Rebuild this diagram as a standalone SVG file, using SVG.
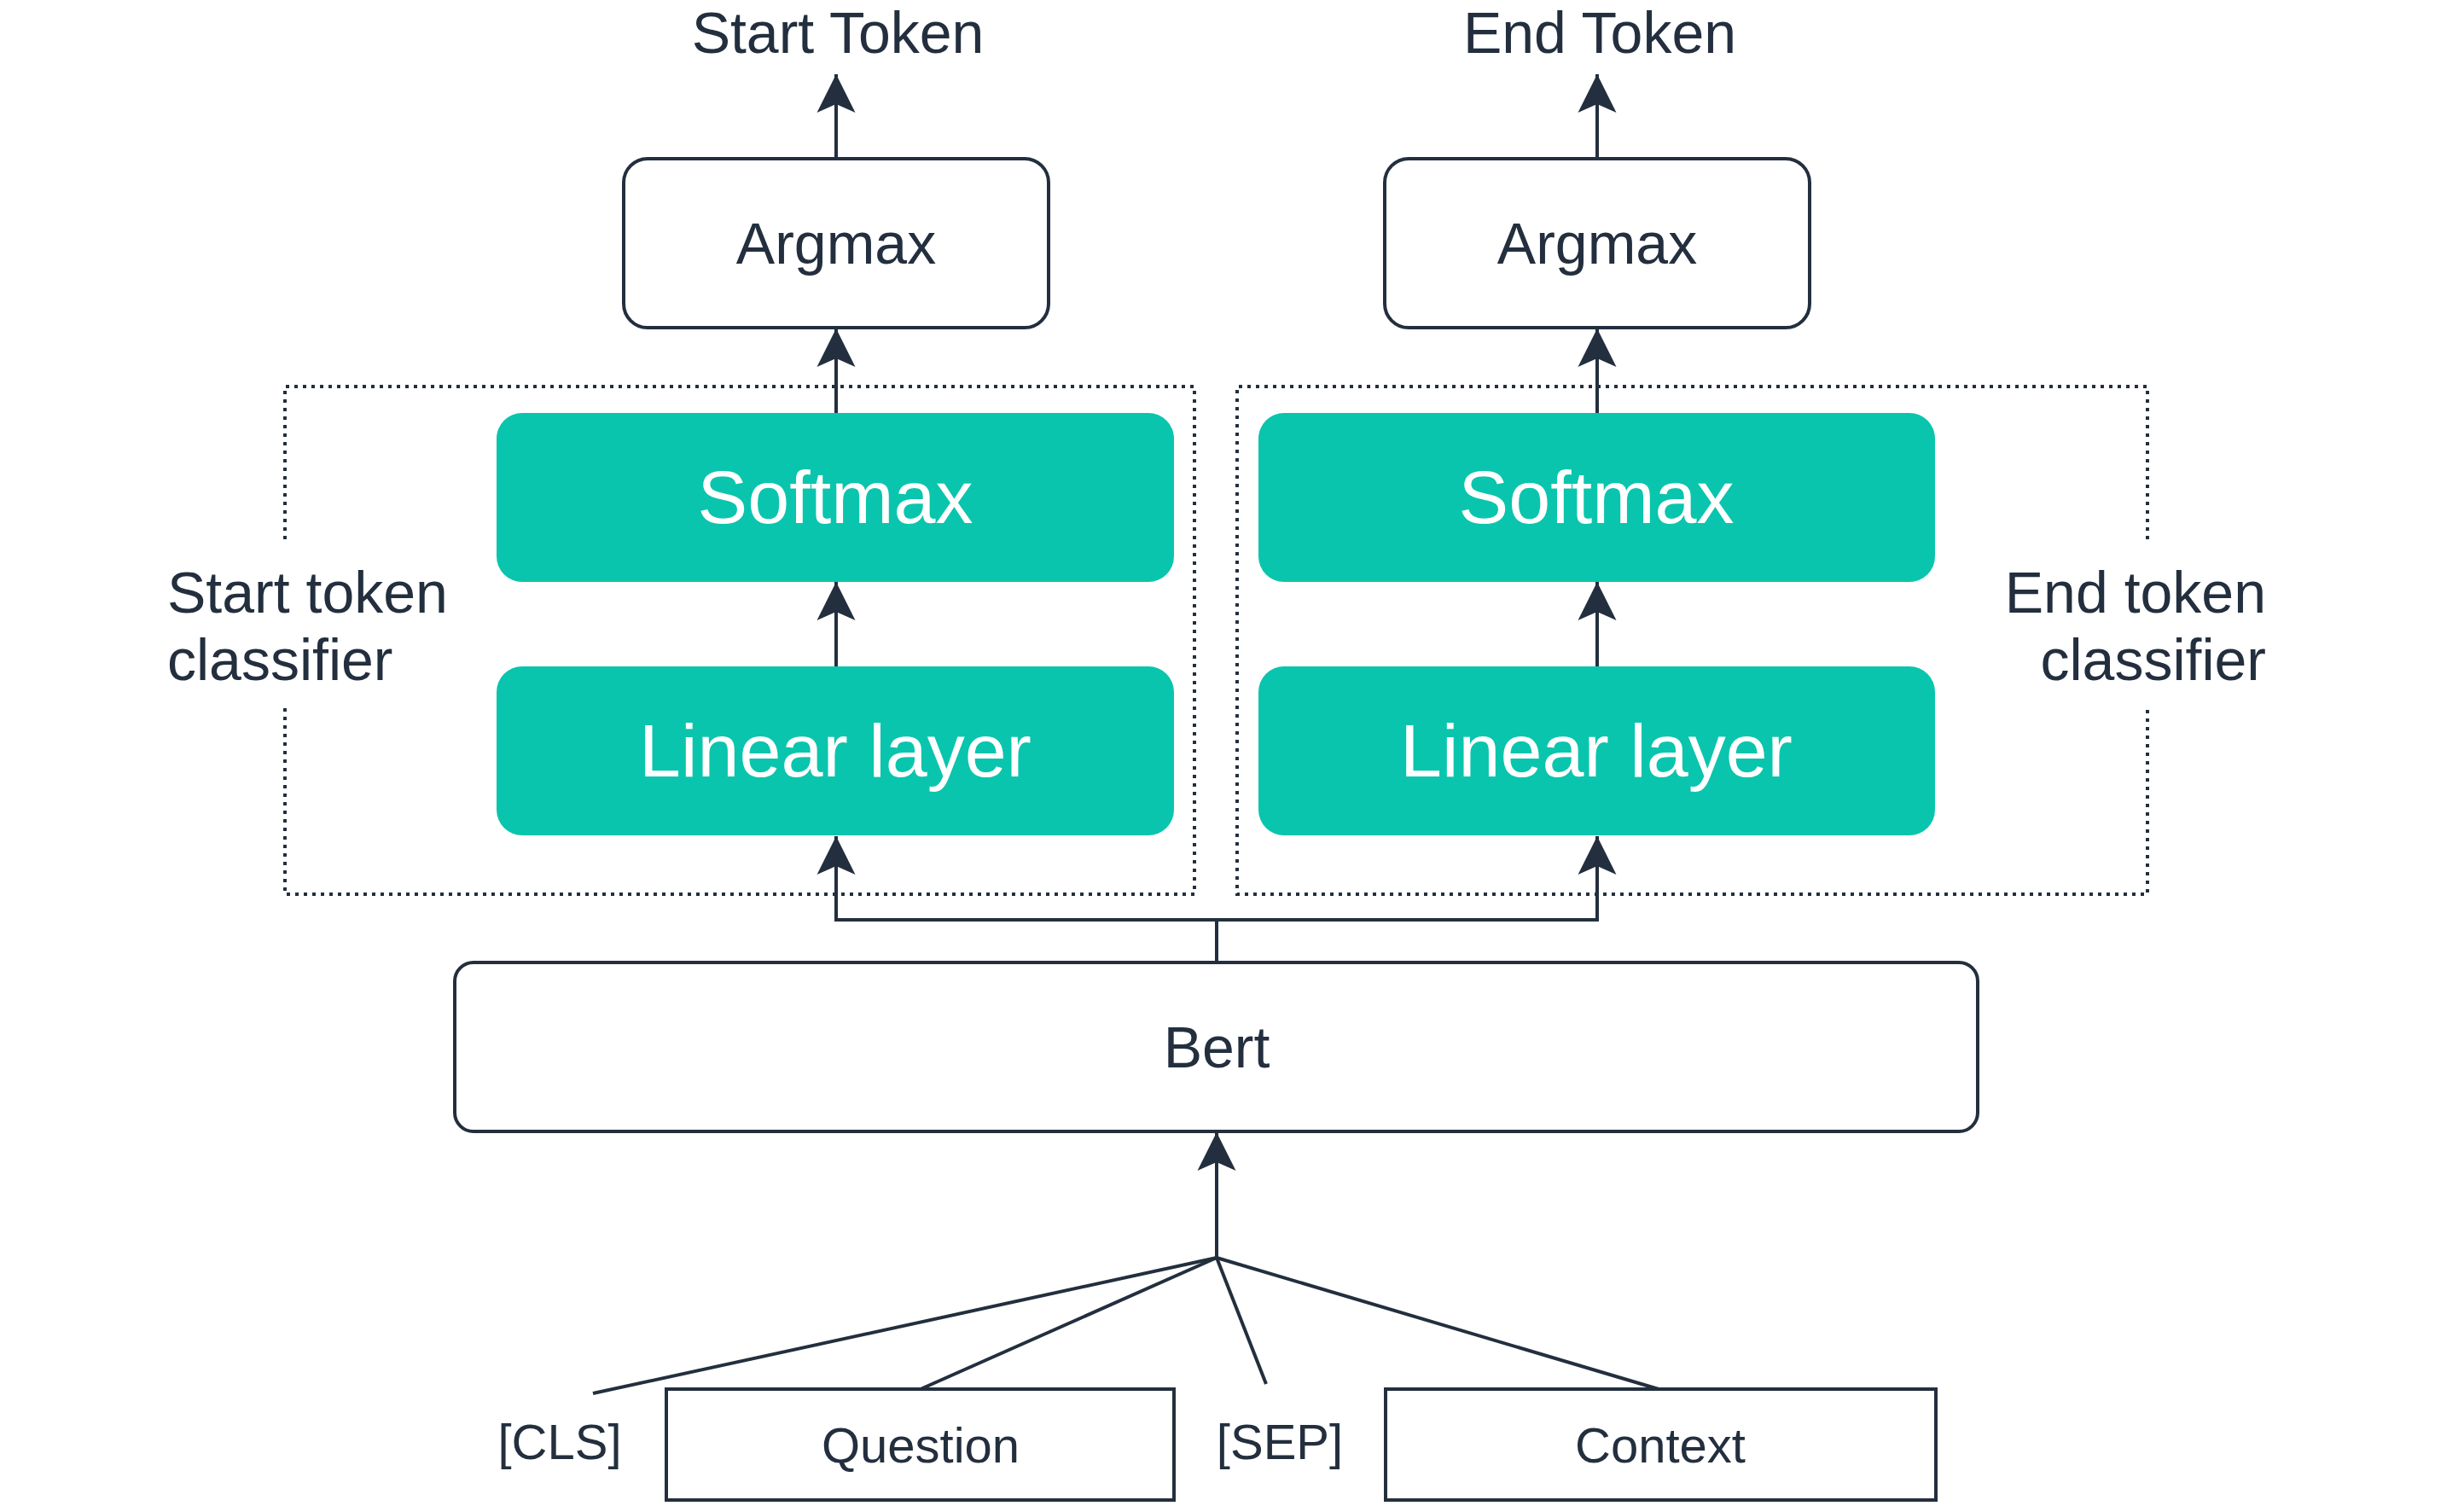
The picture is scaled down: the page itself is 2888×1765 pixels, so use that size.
<svg xmlns="http://www.w3.org/2000/svg" width="2888" height="1765" viewBox="0 0 2888 1765">
<style>
.t{font-family:"Liberation Sans",Arial,sans-serif;fill:#232F3E;font-size:68px;text-anchor:middle}
.w{font-family:"Liberation Sans",Arial,sans-serif;fill:#FFFFFF;font-size:88px;text-anchor:middle}
.s{font-family:"Liberation Sans",Arial,sans-serif;fill:#232F3E;font-size:58px;text-anchor:middle}
.box{fill:#FFFFFF;stroke:#232F3E;stroke-width:4}
.teal{fill:#0AC5AD}
.dot{fill:none;stroke:#232F3E;stroke-width:4;stroke-dasharray:4 6}
.ln{fill:none;stroke:#232F3E;stroke-width:4}
</style>
<defs>
<marker id="arr" markerUnits="userSpaceOnUse" markerWidth="46" markerHeight="46" viewBox="0 0 46 46" refX="45" refY="23" orient="auto">
<path d="M45,23 L0,0.5 L10,23 L0,45.5 Z" fill="#232F3E"/>
</marker>
</defs>
<rect width="2888" height="1765" fill="#FFFFFF"/>

<g id="start-classifier-group">
<path class="dot" d="M334,632 V453 H1400 V1048 H334 V830"/>
<text class="t" style="text-anchor:start" x="196" y="718">Start token</text>
<text class="t" style="text-anchor:start" x="196" y="797">classifier</text>
</g>
<g id="end-classifier-group">
<path class="dot" d="M2517,632 V453 H1450 V1048 H2517 V830"/>
<text class="t" style="text-anchor:end" x="2656" y="718">End token</text>
<text class="t" style="text-anchor:end" x="2656" y="797">classifier</text>
</g>

<g id="connectors">
<line class="ln" x1="980" y1="186" x2="980" y2="87" marker-end="url(#arr)"/>
<line class="ln" x1="1872" y1="186" x2="1872" y2="87" marker-end="url(#arr)"/>
<line class="ln" x1="980" y1="484" x2="980" y2="385" marker-end="url(#arr)"/>
<line class="ln" x1="1872" y1="484" x2="1872" y2="385" marker-end="url(#arr)"/>
<line class="ln" x1="980" y1="781" x2="980" y2="682" marker-end="url(#arr)"/>
<line class="ln" x1="1872" y1="781" x2="1872" y2="682" marker-end="url(#arr)"/>
<path class="ln" d="M1426,1128 V1078 H980 V980" marker-end="url(#arr)"/>
<path class="ln" d="M1426,1078 H1872 V980" marker-end="url(#arr)"/>
<line class="ln" x1="1426" y1="1474" x2="1426" y2="1327" marker-end="url(#arr)"/>
<line class="ln" x1="1426" y1="1474" x2="695" y2="1633"/>
<line class="ln" x1="1426" y1="1474" x2="1079" y2="1628"/>
<line class="ln" x1="1426" y1="1474" x2="1484" y2="1622"/>
<line class="ln" x1="1426" y1="1474" x2="1944" y2="1628"/>
</g>

<g id="start-token">
<text class="t" x="982" y="62">Start Token</text>
</g>
<g id="end-token">
<text class="t" x="1875" y="62">End Token</text>
</g>

<g id="argmax-start">
<rect class="box" x="731" y="186" width="498" height="198" rx="28"/>
<text class="t" x="980" y="309">Argmax</text>
</g>
<g id="argmax-end">
<rect class="box" x="1623" y="186" width="498" height="198" rx="28"/>
<text class="t" x="1872" y="309">Argmax</text>
</g>

<g id="softmax-start">
<rect class="teal" x="582" y="484" width="794" height="198" rx="30"/>
<text class="w" x="979" y="613">Softmax</text>
</g>
<g id="softmax-end">
<rect class="teal" x="1475" y="484" width="793" height="198" rx="30"/>
<text class="w" x="1871" y="613">Softmax</text>
</g>

<g id="linear-start">
<rect class="teal" x="582" y="781" width="794" height="198" rx="30"/>
<text class="w" x="979" y="910">Linear layer</text>
</g>
<g id="linear-end">
<rect class="teal" x="1475" y="781" width="793" height="198" rx="30"/>
<text class="w" x="1871" y="910">Linear layer</text>
</g>

<g id="bert">
<rect class="box" x="533" y="1128" width="1785" height="198" rx="22"/>
<text class="t" x="1426" y="1251">Bert</text>
</g>

<g id="cls">
<text class="s" x="656" y="1710">[CLS]</text>
</g>
<g id="question">
<rect class="box" x="781" y="1628" width="595" height="130"/>
<text class="s" x="1079" y="1714">Question</text>
</g>
<g id="sep">
<text class="s" x="1500" y="1710">[SEP]</text>
</g>
<g id="context">
<rect class="box" x="1624" y="1628" width="645" height="130"/>
<text class="s" x="1946" y="1714">Context</text>
</g>
</svg>
